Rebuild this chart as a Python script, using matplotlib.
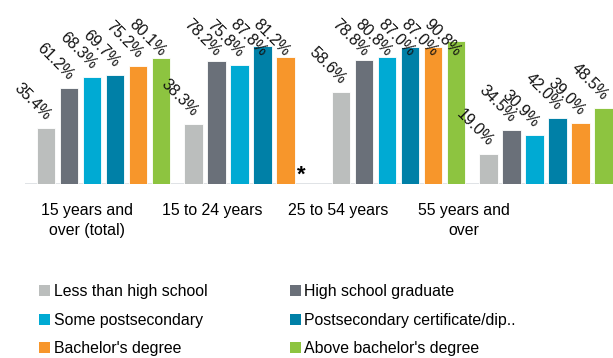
import numpy as np
import matplotlib
matplotlib.use('Agg')
import matplotlib.pyplot as plt
from matplotlib.patches import Patch

plt.rcParams['font.family'] = ['Liberation Sans', 'DejaVu Sans']

groups = ['15 years and\nover (total)', '15 to 24 years', '25 to 54 years', '55 years and\nover']
levels = ['Less than high school', 'High school graduate', 'Some postsecondary',
          'Postsecondary certificate/dip..', "Bachelor's degree", "Above bachelor's degree"]
colors = ['#BBBEBD', '#6A7079', '#00AAD3', '#0080A7', '#F7962B', '#8DC440']

less_hs = [35.4, 38.3, 58.6, 19.0]
hs_grad = [61.2, 78.2, 78.8, 34.5]
some_post = [68.3, 75.8, 80.8, 30.9]
post_cert = [69.7, 87.8, 87.0, 42.0]
bachelor = [75.2, 81.2, 87.0, 39.0]
above_bach = [80.1, None, 90.8, 48.5]  # suppressed for 15 to 24
series = [less_hs, hs_grad, some_post, post_cert, bachelor, above_bach]


def main():
    fig = plt.figure(figsize=(6.13, 3.58), dpi=100)
    ax = fig.add_axes([25 / 613, 174 / 358, 588 / 613, 157 / 358])

    group_step = 6.41
    fs = 11.4
    label_cap = 83  # keep tall labels inside the plot area
    for i, vals in enumerate(series):
        for g, v in enumerate(vals):
            x = g * group_step + i
            if v is None:
                ax.text(x - 0.3, -1, '*', fontsize=16, fontweight='bold',
                        ha='center', va='bottom', color='black')
                continue
            ax.bar(x, v, width=0.8, color=colors[i], edgecolor='white', linewidth=0.6)
            ax.text(x + 0.1, min(v + 6.5, label_cap), f'{v:.1f}%', rotation=-45,
                    rotation_mode='anchor', ha='right', va='center',
                    fontsize=fs, color='#111111')

    ax.set_xlim(-0.91, 24.65)
    ax.set_ylim(0, 100)
    ax.axhline(0, color='#DDE0E3', linewidth=2, zorder=0)
    for s in ax.spines.values():
        s.set_visible(False)
    ax.set_yticks([])
    label_pos = [1.78 + g * 5.46 for g in range(len(groups))]
    ax.set_xticks(label_pos, groups, fontsize=fs, linespacing=1.4)
    ax.tick_params(axis='x', length=0, pad=14)

    handles = [Patch(facecolor=c) for c in colors]
    order = [0, 2, 4, 1, 3, 5]
    fig.legend([handles[k] for k in order], [levels[k] for k in order],
               ncol=2, loc='upper left', bbox_to_anchor=(25 / 613, 1 - 270 / 358),
               frameon=False, fontsize=fs, handlelength=0.7, handleheight=0.7,
               handletextpad=0.2, columnspacing=5.25, labelspacing=0.86)

    fig.savefig('out.png', dpi=100)


if __name__ == '__main__':
    main()
